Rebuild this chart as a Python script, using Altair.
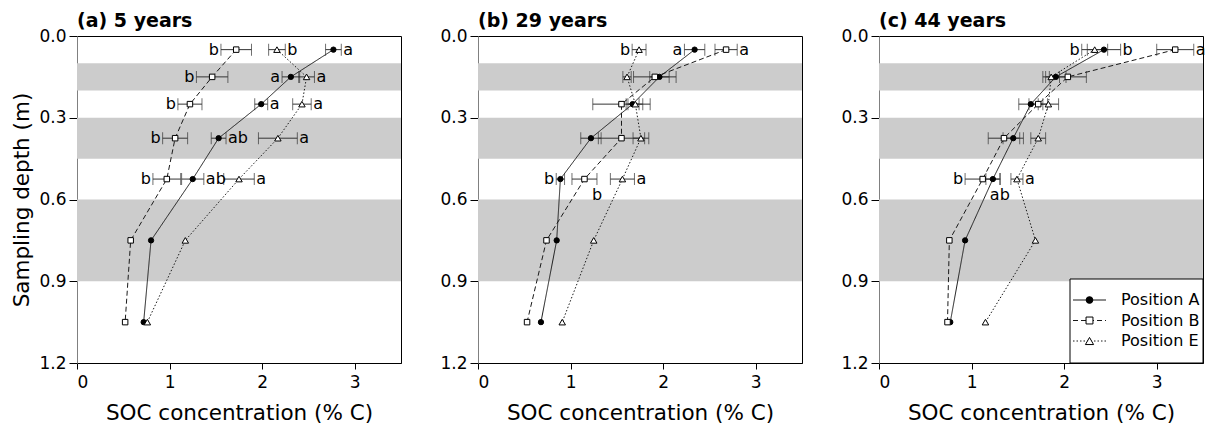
import altair as alt
import pandas as pd

FONT = "DejaVu Sans"

# Sampling depths (m), midpoints of the soil layers
DEPTHS = [0.05, 0.15, 0.25, 0.375, 0.525, 0.75, 1.05]
# Shaded layer boundaries (m)
BAND_TOP = [0.1, 0.3, 0.6]
BAND_BOTTOM = [0.2, 0.45, 0.9]

POSITIONS = ["Position A", "Position B", "Position E"]
PANEL_TITLES = ["(a) 5 years", "(b) 29 years", "(c) 44 years"]

# Mean SOC concentration (% C) per panel, one list per panel
SOC_A = [
    [2.77, 2.31, 1.99, 1.53, 1.25, 0.80, 0.72],
    [2.34, 1.96, 1.67, 1.22, 0.89, 0.85, 0.68],
    [2.43, 1.91, 1.64, 1.45, 1.23, 0.93, 0.77],
]
SOC_B = [
    [1.72, 1.46, 1.22, 1.06, 0.97, 0.58, 0.52],
    [2.68, 1.91, 1.55, 1.55, 1.15, 0.74, 0.53],
    [3.20, 2.04, 1.72, 1.35, 1.12, 0.76, 0.74],
]
SOC_E = [
    [2.16, 2.48, 2.43, 2.17, 1.75, 1.17, 0.76],
    [1.74, 1.61, 1.70, 1.76, 1.56, 1.25, 0.91],
    [2.33, 1.86, 1.83, 1.72, 1.49, 1.69, 1.15],
]

# Standard errors for the five upper depths
SE_A = [
    [0.085, 0.095, 0.07, 0.08, 0.12],
    [0.11, 0.105, 0.07, 0.11, 0.045],
    [0.18, 0.11, 0.13, 0.11, 0.075],
]
SE_B = [
    [0.165, 0.17, 0.13, 0.135, 0.15],
    [0.12, 0.23, 0.31, 0.25, 0.135],
    [0.20, 0.20, 0.10, 0.17, 0.19],
]
SE_E = [
    [0.09, 0.085, 0.10, 0.21, 0.165],
    [0.075, 0.045, 0.08, 0.085, 0.13],
    [0.14, 0.09, 0.11, 0.08, 0.065],
]

# Significance letters; side: L = left of bar, R = right of bar, B = below
LET_A = [["a", "a", "a", "ab", "ab"], ["a", "", "", "", "b"], ["b", "", "", "", "ab"]]
SIDE_A = [["R", "L", "R", "R", "R"], ["L", "", "", "", "L"], ["R", "", "", "", "B"]]
LET_B = [["b", "b", "b", "b", "b"], ["a", "", "", "", "b"], ["a", "", "", "", "b"]]
SIDE_B = [["L", "L", "L", "L", "L"], ["R", "", "", "", "B"], ["R", "", "", "", "L"]]
LET_E = [["b", "a", "a", "a", "a"], ["b", "", "", "", "a"], ["b", "", "", "", "a"]]
SIDE_E = [["R", "R", "R", "R", "R"], ["L", "", "", "", "R"], ["L", "", "", "", "R"]]

SERIES = {
    "Position A": (SOC_A, SE_A, LET_A, SIDE_A),
    "Position B": (SOC_B, SE_B, LET_B, SIDE_B),
    "Position E": (SOC_E, SE_E, LET_E, SIDE_E),
}

rows = []
for p, title in enumerate(PANEL_TITLES):
    for pos, (soc, se, let, side) in SERIES.items():
        for k, depth in enumerate(DEPTHS):
            v = soc[p][k]
            rec = {"panel": title, "position": pos, "depth": depth, "soc": v,
                   "lo": None, "hi": None, "letter": "", "side": "", "lx": None}
            if k < len(se[p]):
                rec["lo"] = v - se[p][k]
                rec["hi"] = v + se[p][k]
                rec["letter"] = let[p][k]
                rec["side"] = side[p][k]
                rec["lx"] = rec["lo"] if side[p][k] == "L" else rec["hi"]
            rows.append(rec)
df = pd.DataFrame(rows)
bands = pd.DataFrame({"top": BAND_TOP, "bottom": BAND_BOTTOM})
key = pd.DataFrame({"position": POSITIONS})

W, H = 324, 327
X_SCALE = alt.Scale(domain=[0, 3.5], nice=False, zero=False)
Y_SCALE = alt.Scale(domain=[0, 1.2], reverse=True, nice=False, zero=False)
DASH = alt.Scale(domain=POSITIONS, range=[[1, 0], [5, 3], [1.5, 2]])

# Marker style per position: shape, fill, size
MARKERS = {
    "Position A": ("circle", "black", 28),
    "Position B": ("square", "white", 30),
    "Position E": ("triangle-up", "white", 42),
}

# Key box placement inside the last panel (pixels)
KEY_LEFT, KEY_TOP = 191, 243
KEY_ROWS = [264, 305]
KEY_LINE = (194, 227)
KEY_TEXT_X = 242


def key_layer():
    ky = alt.Y("position:N",
               scale=alt.Scale(type="point", domain=POSITIONS, range=KEY_ROWS, padding=0),
               axis=None)
    box = alt.Chart(key).mark_rect(fill="white", stroke="black", strokeWidth=1).encode(
        x=alt.value(KEY_LEFT), x2=alt.value(W), y=alt.value(KEY_TOP), y2=alt.value(H)
    ).transform_filter(alt.datum.position == POSITIONS[0])
    samples = alt.Chart(key).mark_rule(color="#1a1a1a", strokeWidth=1).encode(
        x=alt.value(KEY_LINE[0]), x2=alt.value(KEY_LINE[1]), y=ky,
        strokeDash=alt.StrokeDash("position:N", scale=DASH, legend=None),
    )
    layers = [box, samples]
    mid = (KEY_LINE[0] + KEY_LINE[1]) / 2
    for pos in POSITIONS:
        shape, fill, size = MARKERS[pos]
        layers.append(
            alt.Chart(key).transform_filter(alt.datum.position == pos)
            .mark_point(shape=shape, filled=True, fill=fill, stroke="black",
                        strokeWidth=1, size=size * 1.6, opacity=1)
            .encode(x=alt.value(mid), y=ky)
        )
    layers.append(
        alt.Chart(key).mark_text(align="left", baseline="middle", fontSize=16,
                                 font=FONT, color="black")
        .encode(x=alt.value(KEY_TEXT_X), y=ky, text="position:N")
    )
    return alt.layer(*layers)


def panel(i):
    d = df[df.panel == PANEL_TITLES[i]]
    base = alt.Chart(d)
    x_axis = alt.Axis(values=[0, 1, 2, 3], title="SOC concentration (% C)")
    if i == 0:
        y_axis = alt.Axis(values=[0, 0.3, 0.6, 0.9, 1.2], format=".1f",
                          title="Sampling depth (m)")
    else:
        y_axis = alt.Axis(values=[0, 0.3, 0.6, 0.9, 1.2], format=".1f", title=None)
    X = lambda f: alt.X(f, scale=X_SCALE, axis=x_axis)
    Y = lambda f: alt.Y(f, scale=Y_SCALE, axis=y_axis)

    shade = alt.Chart(bands).mark_rect(color="#cccccc").encode(
        y=Y("top:Q"), y2="bottom:Q", x=alt.value(0), x2=alt.value(W)
    )
    lines = base.mark_line(color="#1a1a1a", strokeWidth=1).encode(
        x=X("soc:Q"), y=Y("depth:Q"), detail="position:N",
        strokeDash=alt.StrokeDash("position:N", scale=DASH, legend=None),
        order="depth:Q",
    )
    with_err = base.transform_filter("isValid(datum.lo)")
    bars = with_err.mark_rule(color="#333333", strokeWidth=1).encode(
        x=X("lo:Q"), x2="hi:Q", y=Y("depth:Q")
    )
    caps = with_err.transform_fold(["lo", "hi"], as_=["end", "xc"]).mark_tick(
        orient="vertical", size=12, thickness=1, color="#333333"
    ).encode(x=X("xc:Q"), y=Y("depth:Q"))

    layers = [shade, lines, bars, caps]
    for pos in POSITIONS:
        shape, fill, size = MARKERS[pos]
        layers.append(
            base.transform_filter(alt.datum.position == pos)
            .mark_point(shape=shape, filled=True, fill=fill, stroke="black",
                        strokeWidth=1, size=size, opacity=1)
            .encode(x=X("soc:Q"), y=Y("depth:Q"))
        )
    txt = dict(fontSize=16, font=FONT, color="black", baseline="middle")
    layers.append(
        with_err.transform_filter("datum.side == 'L'")
        .mark_text(align="right", dx=-2, **txt)
        .encode(x=X("lx:Q"), y=Y("depth:Q"), text="letter:N")
    )
    layers.append(
        with_err.transform_filter("datum.side == 'R'")
        .mark_text(align="left", dx=2, **txt)
        .encode(x=X("lx:Q"), y=Y("depth:Q"), text="letter:N")
    )
    layers.append(
        with_err.transform_filter("datum.side == 'B'")
        .mark_text(align="center", dy=16, **txt)
        .encode(x=X("lx:Q"), y=Y("depth:Q"), text="letter:N")
    )

    view = alt.layer(*layers)
    if i == 2:
        view = alt.layer(view, key_layer()).resolve_scale(y="independent")

    return view.properties(
        width=W, height=H,
        title=alt.TitleParams(PANEL_TITLES[i], frame="group", anchor="start"),
    )


chart = (
    alt.hconcat(panel(0), panel(1), panel(2), spacing=77, bounds="flush")
    .properties(padding={"left": 11, "top": 11, "right": 0, "bottom": 0})
    .configure(font=FONT)
    .configure_view(stroke="black", strokeWidth=1)
    .configure_axis(
        grid=False, labelFont=FONT, labelFontSize=17, labelColor="black",
        titleFont=FONT, titleFontSize=21.5, titleFontWeight="normal",
        titleColor="black", tickColor="black", domainColor="black",
    )
    .configure_axisY(domainColor="#808080", tickSize=8, labelPadding=3, titlePadding=5)
    .configure_axisX(tickSize=6, labelPadding=5, titlePadding=12)
    .configure_title(font=FONT, fontSize=19, fontWeight="bold", anchor="start",
                     color="black", offset=-4)
)

chart.save("out.html", embed_options={"renderer": "svg", "actions": False})
